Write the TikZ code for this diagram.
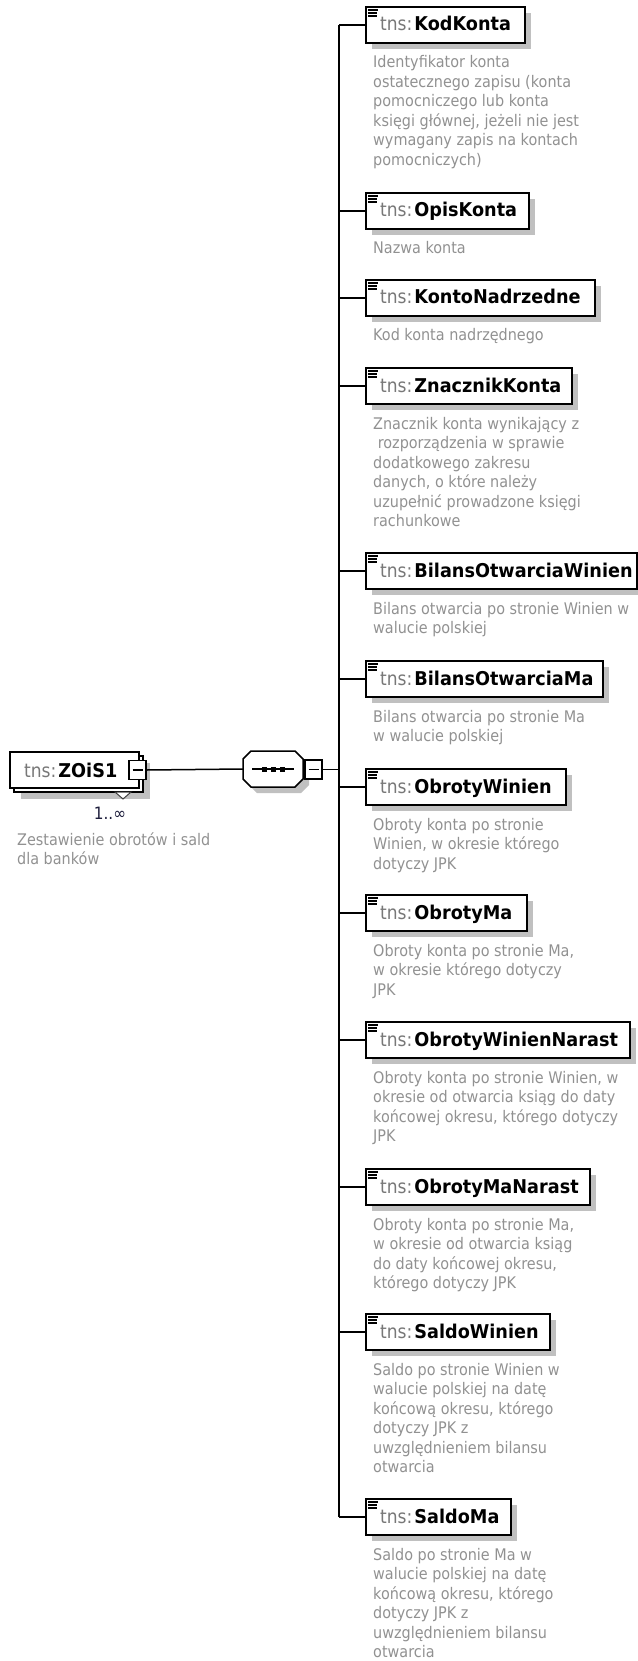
\documentclass[tikz,border=0pt]{standalone}
\usepackage{fontspec}
\setmainfont[FakeStretch=0.9]{DejaVu Sans}
\newfontfamily\bnm[FakeStretch=0.93]{DejaVu Sans}
\definecolor{tnsgray}{RGB}{120,120,120}
\definecolor{descgray}{RGB}{145,145,145}
\definecolor{shadowgray}{RGB}{192,192,192}
\definecolor{numcol}{RGB}{30,30,60}
\tikzset{
  x=1pt, y=-1pt,
  conn/.style={line width=1.5pt, draw=black},
  ebox/.style={draw=black, line width=1.6pt, fill=white, rectangle, inner sep=0pt, anchor=north west, minimum height=36pt},
  shd/.style={fill=shadowgray},
  lbl/.style={anchor=base west, inner sep=0pt, font=\fontsize{19}{22}\selectfont},
  dsc/.style={anchor=base west, inner sep=0pt, align=left, text=descgray, font=\fontsize{16}{19.5}\selectfont},
  mbox/.style={draw=black, line width=1.3pt, fill=white, rectangle, inner sep=0pt, minimum width=17pt, minimum height=19pt},
  icon/.style={line width=1.1pt, draw=black},
}
\newcommand{\nmtext}[1]{{\color{tnsgray}tns:}\hspace{2pt}{\bnm\bfseries #1}}
% #1 id, #2 top, #3 right edge, #4 name, #5 number of description lines, #6 description
\newcommand{\xel}[6]{%
  \fill[shd] (372,#2+7) rectangle (#3+7,#2+43);
  \node[ebox, minimum width={(#3-365)*1pt}] (#1) at (365,#2) {};
  \draw[icon] (368,#2+4) -- (378,#2+4);
  \draw[icon] (368,#2+7) -- (377,#2+7);
  \draw[icon] (368,#2+10) -- (377,#2+10);
  \node[lbl] (#1t) at (380,#2+25) {\nmtext{#4}};
  \node[dsc] (#1d) at (373,#2+62+#5*19.5-19.5) {#6};
  \draw[conn] (#1.west -| bus) -- (#1.west);
}
\begin{document}
\begin{tikzpicture}
\useasboundingbox (0,0) rectangle (637,1661);
\coordinate (bus) at (339,0);

% root element
\fill[shd] (21,763) rectangle (150,799);
\draw[line width=1.4pt, fill=white] (14,756) rectangle (143,792);
\node[ebox, minimum width=129pt] (zois) at (9,751) {};
\node[lbl] (zoist) at (24,777) {\nmtext{ZOiS1}};
\node[mbox] (zoism) at (137.5,770) {};
\draw[line width=1.3pt] ([xshift=-5pt]zoism.center) -- ([xshift=5pt]zoism.center);
\draw[line width=1pt, draw=black!75, fill=white] (115,792) -- (131,792) -- (123,799) -- cycle;
\node[anchor=base, inner sep=0pt, text=numcol, font=\fontsize{17}{19}\selectfont] (mult) at (110,819) {1..∞};
\node[dsc] (zoisd) at (17,864.5) {Zestawienie obrotów i sald\\dla banków};

% sequence compositor
\node[minimum width=60pt, minimum height=36pt, inner sep=0pt] (seq) at (273,769) {};
\fill[shd, shift={(6,6)}] (243,759) -- (251,751) -- (295,751) -- (303,759) -- (303,779) -- (295,787) -- (251,787) -- (243,779) -- cycle;
\draw[line width=1.5pt, fill=white] (243,759) -- (251,751) -- (295,751) -- (303,759) -- (303,779) -- (295,787) -- (251,787) -- (243,779) -- cycle;
\draw[line width=1.5pt] (252,769) -- (294,769);
\fill (261.5,766.5) rectangle (266.5,771.5);
\fill (270.5,766.5) rectangle (275.5,771.5);
\fill (279.5,766.5) rectangle (284.5,771.5);
\node[mbox] (seqm) at (313.5,769.5) {};
\draw[line width=1.3pt] ([xshift=-5pt]seqm.center) -- ([xshift=5pt]seqm.center);
\draw[conn] (zoism.east) -- (seq.west);
\draw[conn] (seqm.east) -- (seqm.east -| bus);

% children
\xel{kod}{6}{524}{KodKonta}{6}{Identyfikator konta\\ostatecznego zapisu (konta\\pomocniczego lub konta\\księgi głównej, jeżeli nie jest\\wymagany zapis na kontach\\pomocniczych)}
\xel{opis}{192}{528}{OpisKonta}{1}{Nazwa konta}
\xel{nadrz}{279}{594}{KontoNadrzedne}{1}{Kod konta nadrzędnego}
\xel{znacz}{367}{571}{ZnacznikKonta}{6}{Znacznik konta wynikający z\\\mbox{}\ rozporządzenia w sprawie\\dodatkowego zakresu\\danych, o które należy\\uzupełnić prowadzone księgi\\rachunkowe}
\xel{bow}{552}{636}{BilansOtwarciaWinien}{2}{Bilans otwarcia po stronie Winien w\\walucie polskiej}
\xel{bom}{660}{602}{BilansOtwarciaMa}{2}{Bilans otwarcia po stronie Ma\\w walucie polskiej}
\xel{ow}{768}{565}{ObrotyWinien}{3}{Obroty konta po stronie\\Winien, w okresie którego\\dotyczy JPK}
\xel{om}{894}{526}{ObrotyMa}{3}{Obroty konta po stronie Ma,\\w okresie którego dotyczy\\JPK}
\xel{own}{1021}{629}{ObrotyWinienNarast}{4}{Obroty konta po stronie Winien, w\\okresie od otwarcia ksiąg do daty\\końcowej okresu, którego dotyczy\\JPK}
\xel{omn}{1168}{589}{ObrotyMaNarast}{4}{Obroty konta po stronie Ma,\\w okresie od otwarcia ksiąg\\do daty końcowej okresu,\\którego dotyczy JPK}
\xel{sw}{1313}{549}{SaldoWinien}{6}{Saldo po stronie Winien w\\walucie polskiej na datę\\końcową okresu, którego\\dotyczy JPK z\\uwzględnieniem bilansu\\otwarcia}
\xel{sm}{1498}{510}{SaldoMa}{6}{Saldo po stronie Ma w\\walucie polskiej na datę\\końcową okresu, którego\\dotyczy JPK z\\uwzględnieniem bilansu\\otwarcia}

\draw[conn] (kod.west -| bus) -- (sm.west -| bus);
\end{tikzpicture}
\end{document}
